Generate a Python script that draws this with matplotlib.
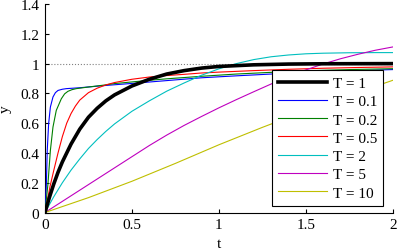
import matplotlib
matplotlib.use("Agg")
import matplotlib.pyplot as plt

# ---- data ----
t_T1 = [0, 0.025, 0.05, 0.075, 0.1, 0.15, 0.2, 0.25, 0.3, 0.35, 0.4, 0.5, 0.6, 0.7, 0.8, 0.9, 1.0, 1.2, 1.4, 1.6, 2.0]
y_T1 = [0, 0.10, 0.19, 0.27, 0.34, 0.46, 0.56, 0.64, 0.70, 0.75, 0.79, 0.85, 0.895, 0.93, 0.953, 0.97, 0.981, 0.992, 0.997, 0.999, 1.0]

t_T01 = [0, 0.004, 0.008, 0.013, 0.021, 0.031, 0.046, 0.06, 0.075, 0.1, 0.123, 0.2, 0.334, 0.5, 0.7, 0.9, 1.1, 1.467, 1.75, 2.0]
y_T01 = [0, 0.09, 0.19, 0.416, 0.596, 0.708, 0.776, 0.805, 0.82, 0.828, 0.832, 0.838, 0.852, 0.867, 0.886, 0.905, 0.918, 0.94, 0.952, 0.96]

t_T02 = [0, 0.008, 0.017, 0.031, 0.046, 0.065, 0.094, 0.113, 0.132, 0.155, 0.18, 0.25, 0.334, 0.4, 0.5, 0.6, 0.7, 0.9, 1.1, 1.467, 1.75, 2.0]
y_T02 = [0, 0.09, 0.19, 0.416, 0.574, 0.686, 0.764, 0.797, 0.814, 0.825, 0.832, 0.843, 0.855, 0.866, 0.877, 0.888, 0.898, 0.915, 0.93, 0.951, 0.96, 0.966]

t_T05 = [0, 0.03, 0.05, 0.075, 0.1, 0.125, 0.15, 0.175, 0.2, 0.25, 0.3, 0.35, 0.4, 0.5, 0.6, 0.7, 0.8, 0.9, 1.0, 1.2, 1.4, 1.6, 1.8, 2.0]
y_T05 = [0, 0.18, 0.28, 0.40, 0.51, 0.60, 0.665, 0.715, 0.755, 0.805, 0.835, 0.857, 0.873, 0.895, 0.91, 0.92, 0.928, 0.937, 0.943, 0.953, 0.962, 0.969, 0.974, 0.978]

t_T2 = [0, 0.05, 0.1, 0.15, 0.2, 0.25, 0.3, 0.35, 0.4, 0.5, 0.6, 0.7, 0.8, 0.9, 1.0, 1.1, 1.2, 1.3, 1.4, 1.5, 1.6, 1.75, 1.9, 2.0]
y_T2 = [0, 0.105, 0.20, 0.285, 0.36, 0.43, 0.49, 0.545, 0.595, 0.68, 0.75, 0.815, 0.87, 0.922, 0.965, 1.0, 1.027, 1.046, 1.058, 1.066, 1.070, 1.073, 1.074, 1.074]

t_T5 = [0, 0.1, 0.2, 0.3, 0.4, 0.5, 0.6, 0.7, 0.8, 0.9, 1.0, 1.1, 1.2, 1.3, 1.4, 1.5, 1.6, 1.7, 1.8, 1.9, 2.0]
y_T5 = [0, 0.075, 0.15, 0.225, 0.30, 0.375, 0.45, 0.52, 0.585, 0.645, 0.703, 0.758, 0.811, 0.863, 0.913, 0.958, 0.998, 1.033, 1.063, 1.09, 1.112]

t_T10 = [0, 0.25, 0.5, 0.75, 1.0, 1.25, 1.5, 1.75, 2.0]
y_T10 = [0, 0.10, 0.21, 0.33, 0.455, 0.572, 0.683, 0.788, 0.888]

labels = ["T = 1", "T = 0.1", "T = 0.2", "T = 0.5", "T = 2", "T = 5", "T = 10"]
xticks = [0, 0.5, 1, 1.5, 2]
xticklabels = ["0", "0.5", "1", "1.5", "2"]
yticks = [0, 0.2, 0.4, 0.6, 0.8, 1, 1.2, 1.4]
yticklabels = ["0", "0.2", "0.4", "0.6", "0.8", "1", "1.2", "1.4"]

plt.rcParams['font.family'] = ['Liberation Serif', 'DejaVu Serif']
plt.rcParams['font.size'] = 11

fig = plt.figure(figsize=(3.98, 2.53), dpi=100)
ax = fig.add_axes([0.113, 0.156, 0.874, 0.824])

ax.plot([0, 2], [1, 1], linestyle=':', color='#808080', lw=0.8, zorder=1)

ax.plot(t_T1, y_T1, color='black', lw=2.6, label=labels[0], zorder=5)
ax.plot(t_T01, y_T01, color=(0, 0, 1), lw=0.8, label=labels[1], zorder=3)
ax.plot(t_T02, y_T02, color=(0, 0.5, 0), lw=0.8, label=labels[2], zorder=3)
ax.plot(t_T05, y_T05, color=(1, 0, 0), lw=0.8, label=labels[3], zorder=3)
ax.plot(t_T2, y_T2, color=(0, 0.75, 0.75), lw=0.8, label=labels[4], zorder=3)
ax.plot(t_T5, y_T5, color=(0.75, 0, 0.75), lw=0.8, label=labels[5], zorder=3)
ax.plot(t_T10, y_T10, color=(0.75, 0.75, 0), lw=0.8, label=labels[6], zorder=3)

ax.set_xlim(0, 2)
ax.set_ylim(0, 1.4)
ax.set_xticks(xticks)
ax.set_xticklabels(xticklabels)
ax.set_yticks(yticks)
ax.set_yticklabels(yticklabels)
ax.tick_params(direction='in', length=3, width=0.8, pad=4)
ax.spines['top'].set_visible(False)
ax.spines['right'].set_visible(False)
for s in ('left', 'bottom'):
    ax.spines[s].set_linewidth(0.8)
ax.set_xlabel('t', labelpad=4)
ax.set_ylabel('y', labelpad=6)

leg = ax.legend(loc='upper left', bbox_to_anchor=(0.652, 0.683), borderaxespad=0,
                fancybox=False, framealpha=1, edgecolor='black',
                handlelength=3.2, handletextpad=0.4, labelspacing=0.3,
                borderpad=0.4, fontsize=11)
leg.get_frame().set_linewidth(0.8)
leg.set_zorder(10)

fig.savefig('out.png', dpi=100)
